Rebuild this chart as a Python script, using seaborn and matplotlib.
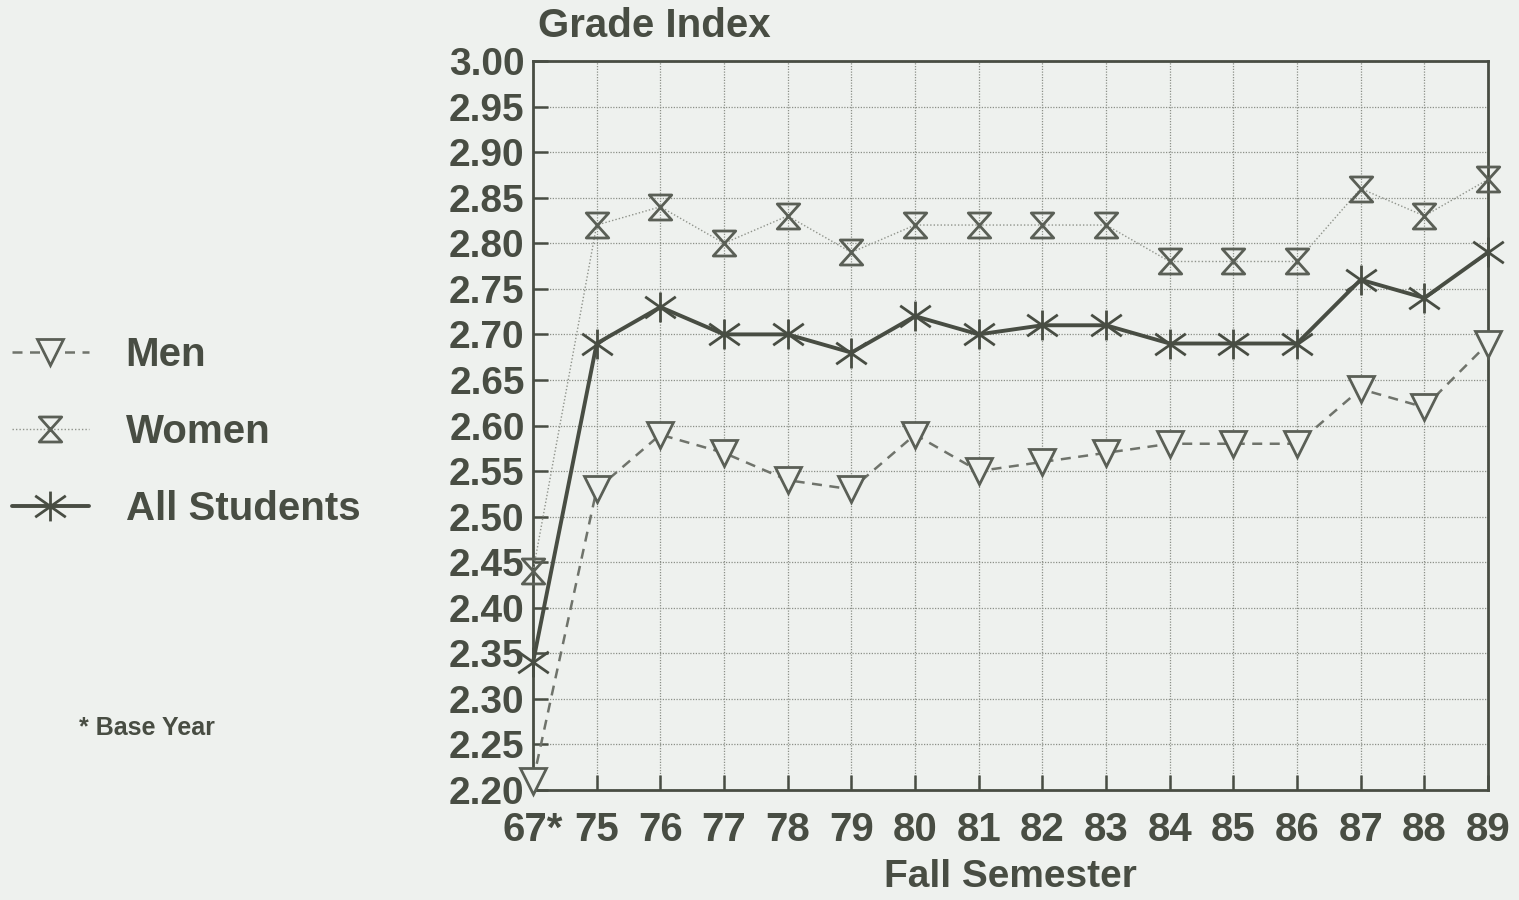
import numpy as np
import pandas as pd
import matplotlib
matplotlib.use("Agg")
import matplotlib.pyplot as plt
from matplotlib.path import Path
from matplotlib.ticker import MultipleLocator, FormatStrFormatter
import seaborn as sns

# Fall semester grade index by group
semesters = ["67*", "75", "76", "77", "78", "79", "80", "81",
             "82", "83", "84", "85", "86", "87", "88", "89"]
men = [2.21, 2.53, 2.59, 2.57, 2.54, 2.53, 2.59, 2.55,
       2.56, 2.57, 2.58, 2.58, 2.58, 2.64, 2.62, 2.69]
women = [2.44, 2.82, 2.84, 2.80, 2.83, 2.79, 2.82, 2.82,
         2.82, 2.82, 2.78, 2.78, 2.78, 2.86, 2.83, 2.87]
all_students = [2.34, 2.69, 2.73, 2.70, 2.70, 2.68, 2.72, 2.70,
                2.71, 2.71, 2.69, 2.69, 2.69, 2.76, 2.74, 2.79]

df = pd.DataFrame({"semester": semesters, "Men": men,
                   "Women": women, "All Students": all_students})

BG = "#eef1ee"
INK = "#484d43"
GREY = "#6f736b"
FS = 29

sns.set_theme(style="white")
plt.rcParams["font.family"] = ["Liberation Sans", "DejaVu Sans"]
plt.rcParams["font.weight"] = "bold"

fig = plt.figure(figsize=(15.19, 9.0), dpi=100, facecolor=BG)
ax = fig.add_axes([0.3509, 0.1222, 0.6287, 0.8100])
ax.set_facecolor(BG)

# hourglass marker: closed bow-tie standing upright
hourglass = Path([(-0.9, 1), (0.9, 1), (-0.9, -1), (0.9, -1), (-0.9, 1)],
                 [Path.MOVETO, Path.LINETO, Path.LINETO, Path.LINETO, Path.CLOSEPOLY])
# asterisk marker: short vertical spoke plus two wide diagonals
a = np.deg2rad(55)
sx, sy = np.sin(a), np.cos(a)
star = Path([(0, 0.8), (0, -0.8), (-sx, sy), (sx, -sy), (sx, sy), (-sx, -sy)],
            [Path.MOVETO, Path.LINETO, Path.MOVETO, Path.LINETO, Path.MOVETO, Path.LINETO])

sns.lineplot(data=df, x="semester", y="Women", ax=ax, sort=False, errorbar=None,
             color="#8f938b", lw=1.0, linestyle=(0, (1, 1.5)),
             marker=hourglass, ms=18, mfc="none", mec="#5a5f56", mew=2.0,
             label="Women", zorder=3, clip_on=False)
sns.lineplot(data=df, x="semester", y="Men", ax=ax, sort=False, errorbar=None,
             color=GREY, lw=1.8, linestyle=(0, (4, 3)),
             marker="v", ms=19, mfc=BG, mec="#5a5f56", mew=2.0,
             label="Men", zorder=4, clip_on=False)
sns.lineplot(data=df, x="semester", y="All Students", ax=ax, sort=False, errorbar=None,
             color=INK, lw=2.8, linestyle="-",
             marker=star, ms=22, mec=INK, mew=2.0,
             label="All Students", zorder=5, clip_on=False)

ax.set_xlim(0, len(semesters) - 1)
ax.set_ylim(2.20, 3.00)
ax.yaxis.set_major_locator(MultipleLocator(0.05))
ax.yaxis.set_major_formatter(FormatStrFormatter("%.2f"))

ax.grid(True, color="#8c9088", lw=0.9, linestyle=(0, (1, 1.2)))
for s in ax.spines.values():
    s.set_visible(True)
    s.set_color(INK)
    s.set_linewidth(2.0)

ax.tick_params(axis="y", direction="in", length=11, width=1.8, color=INK,
               labelsize=FS - 1, labelcolor=INK, pad=6, left=True)
ax.tick_params(axis="x", direction="in", length=11, width=1.8, color=INK,
               labelsize=FS, labelcolor=INK, pad=15, bottom=True)
for lab in ax.get_xticklabels() + ax.get_yticklabels():
    lab.set_fontweight("bold")

ax.set_xlabel("Fall Semester", fontsize=FS - 1, color=INK, fontweight="bold", labelpad=7)
ax.set_ylabel("")
fig.text(0.354, 0.971, "Grade Index", fontsize=FS, color=INK, fontweight="bold",
         ha="left", va="center")

# legend on the left side, ordered Men, Women, All Students
handles, labels = ax.get_legend_handles_labels()
order = [labels.index(n) for n in ["Men", "Women", "All Students"]]
leg = ax.legend([handles[i] for i in order], [labels[i] for i in order],
                loc="center left", bbox_to_anchor=(0.0, 0.52),
                bbox_transform=fig.transFigure, frameon=False,
                fontsize=FS, handlelength=1.9, handletextpad=0.92,
                labelspacing=0.97, borderpad=0.3, borderaxespad=0)
for t in leg.get_texts():
    t.set_color(INK)
    t.set_fontweight("bold")

fig.text(0.052, 0.191, "* Base Year", fontsize=18, color=INK, fontweight="bold",
         ha="left", va="center")

fig.savefig("out.png", dpi=100, facecolor=BG)
